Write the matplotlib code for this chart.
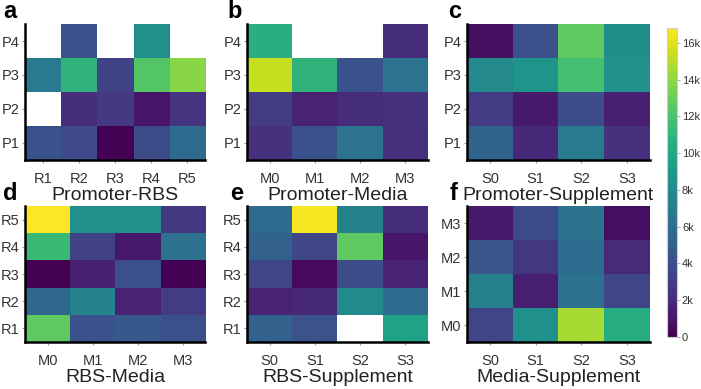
import numpy as np
import matplotlib.pyplot as plt
from matplotlib.ticker import FuncFormatter

nan = np.nan

promoters = ["P1", "P2", "P3", "P4"]
rbs = ["R1", "R2", "R3", "R4", "R5"]
media = ["M0", "M1", "M2", "M3"]
supplements = ["S0", "S1", "S2", "S3"]

# rows bottom -> top, values in counts
promoter_rbs = [
    [4200, 3700, 0, 3900, 5900],
    [nan, 2200, 2800, 1000, 2500],
    [7000, 10900, 3400, 12300, 13800],
    [nan, 4200, nan, 8400, nan],
]
promoter_media = [
    [2400, 4200, 6400, 2300],
    [2900, 1700, 2200, 2400],
    [15300, 10900, 4200, 6400],
    [10600, nan, nan, 2200],
]
promoter_supplement = [
    [5400, 1900, 7000, 2400],
    [3000, 1200, 4000, 1500],
    [7900, 8700, 11800, 8500],
    [600, 4100, 12700, 8300],
]
rbs_media = [
    [12600, 4200, 4600, 4100],
    [5600, 7500, 1700, 2900],
    [0, 1500, 4100, 0],
    [11300, 3300, 1100, 6300],
    [16800, 8400, 8400, 2700],
]
rbs_supplement = [
    [5200, 4300, nan, 9700],
    [1600, 1900, 8000, 5900],
    [3500, 400, 4000, 1600],
    [5200, 3600, 12600, 1000],
    [5900, 16600, 7400, 2200],
]
media_supplement = [
    [3500, 8400, 14600, 10400],
    [7400, 1500, 6300, 3500],
    [4400, 2700, 5900, 2000],
    [1200, 3800, 6300, 600],
]

vmin, vmax = 0, 16800
plt.rcParams['font.family'] = ['Liberation Sans', 'DejaVu Sans']

fig = plt.figure(figsize=(7.01, 3.89), dpi=100)

panels = [
    ("a", promoter_rbs, rbs, promoters, "Promoter-RBS", [0.0357, 0.5887, 0.2568, 0.3496], (0.004, 0.954)),
    ("b", promoter_media, media, promoters, "Promoter-Media", [0.3524, 0.5887, 0.2582, 0.3496], (0.325, 0.954)),
    ("c", promoter_supplement, supplements, promoters, "Promoter-Supplement", [0.6662, 0.5887, 0.2610, 0.3496], (0.639, 0.954)),
    ("d", rbs_media, media, rbs, "RBS-Media", [0.0357, 0.1208, 0.2568, 0.3496], (0.004, 0.486)),
    ("e", rbs_supplement, supplements, rbs, "RBS-Supplement", [0.3524, 0.1208, 0.2582, 0.3496], (0.328, 0.486)),
    ("f", media_supplement, supplements, media, "Media-Supplement", [0.6662, 0.1208, 0.2610, 0.3496], (0.642, 0.486)),
]

cmap = plt.get_cmap('viridis').copy()
cmap.set_bad('white')

for letter, data, xcats, ycats, label, rect, lpos in panels:
    ax = fig.add_axes(rect)
    arr = np.array(data, dtype=float)
    im = ax.imshow(np.ma.masked_invalid(arr), cmap=cmap, vmin=vmin, vmax=vmax,
                   origin='lower', aspect='auto', interpolation='nearest')
    ax.set_xticks(range(len(xcats)))
    ax.set_xticklabels(xcats)
    ax.set_yticks(range(len(ycats)))
    ax.set_yticklabels(ycats)
    ax.tick_params(labelsize=10.5, colors='#999999', labelcolor='#333333',
                   length=2.5, width=0.8)
    ax.tick_params(axis='y', pad=1.5)
    ax.tick_params(axis='x', pad=6)
    ax.set_xlabel(label, fontsize=14, color='#222222', labelpad=1)
    for s in ['top', 'right']:
        ax.spines[s].set_visible(False)
    for s in ['left', 'bottom']:
        ax.spines[s].set_linewidth(1.8)
        ax.spines[s].set_color('black')
    fig.text(lpos[0], lpos[1], letter, fontsize=17, fontweight='bold',
             ha='left', va='baseline')

cax = fig.add_axes([0.9515, 0.1337, 0.0143, 0.794])
cb = fig.colorbar(im, cax=cax, ticks=np.arange(0, 17000, 2000))
cb.ax.yaxis.set_major_formatter(FuncFormatter(lambda v, p: "0" if v == 0 else f"{int(v/1000)}k"))
cb.outline.set_edgecolor('#cccccc')
cb.outline.set_linewidth(0.8)
cb.ax.tick_params(labelsize=8, colors='#999999', labelcolor='#333333',
                  length=2, width=0.6, pad=1.5)

fig.savefig('out.png', dpi=100)
